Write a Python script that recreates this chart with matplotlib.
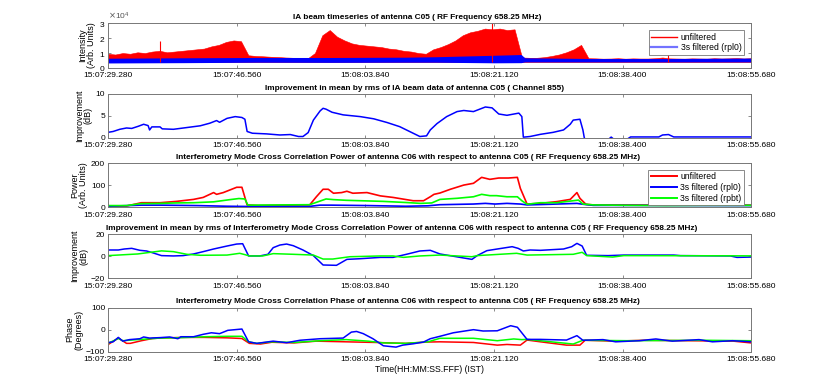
import numpy as np
import matplotlib
matplotlib.use("Agg")
import matplotlib.pyplot as plt
from matplotlib.lines import Line2D
from matplotlib.ticker import ScalarFormatter

plt.rcParams['font.family'] = ['Liberation Sans', 'DejaVu Sans']

# time axis (seconds after 15:07:29.280)
time_ticks = [0.0, 17.28, 34.56, 51.84, 69.12, 86.4]
time_labels = ['15:07:29.280', '15:07:46.560', '15:08:03.840',
               '15:08:21.120', '15:08:38.400', '15:08:55.680']

# panel 1: IA beam intensity envelopes
t_ia = np.linspace(0, 86.4, 88)
ia_unfilt_top = [9500, 9000, 10000, 9500, 10500, 10000, 11000, 11500, 10500, 11000,
                 11500, 12000, 12500, 13000, 14500, 15500, 17500, 18500, 18000, 8500,
                 8000, 7800, 7500, 7300, 7000, 6800, 6600, 6300, 10000, 22000,
                 25500, 21000, 18500, 16500, 15500, 15000, 14500, 14000, 13000, 12500,
                 11500, 11000, 10000, 9500, 12500, 14000, 16000, 18500, 22000, 24000,
                 25000, 26500, 26000, 26500, 25500, 26000, 7000, 6800, 6800, 7200,
                 8000, 9000, 10500, 12500, 15500, 6500, 6400, 6200, 6300, 6500,
                 6200, 6400, 6300, 6300, 6500, 7000, 6400, 6300, 6200, 6400,
                 6300, 6200, 6500, 6300, 6400, 6600, 6300, 6500]
ia_spike_t = [7.0, 51.6, 75.2]
ia_spike_val = [18000, 30000, 12000]
t_ia_blue = [0, 10, 20, 30, 40, 44, 48, 52, 55.5, 56, 65, 75, 86.4]
ia_blue_top = [6500, 6800, 7000, 7000, 7200, 7500, 8000, 8500, 9000, 6800, 6300, 6300, 6600]
ia_blue_low = [3300, 3500, 3800, 3700, 3800, 3800, 3600, 3400, 3500, 4000, 4000, 4000, 4000]

# panel 2: improvement of IA beam (dB)
t_imp = [0, 0.7, 1.6, 2.5, 3.2, 4.1, 4.8, 5.4, 5.6, 5.9, 7.0, 7.3, 8.8, 10.6, 12.4,
         13.7, 14.6, 15.0, 16.0, 17.1, 18.0, 18.4, 18.7, 19.4, 21.3, 23.1, 24.5, 25.6,
         26.2, 26.9, 27.6, 28.5, 28.9, 29.3, 30.1, 31.6, 33.9, 35.7, 37.5, 39.2, 41.0,
         41.9, 42.8, 43.3, 44.2, 45.5, 46.9, 47.8, 49.1, 50.7, 51.6, 52.5, 53.6, 55.2,
         55.6, 55.8, 56.7, 58.1, 59.8, 61.2, 62.1, 62.5, 63.4, 63.8, 64.0, 64.3, 67.3,
         67.6, 67.9, 69.8, 70.2, 74.0, 74.5, 75.3, 76.0, 86.4]
imp_ia = [1.2, 1.4, 1.9, 2.2, 2.1, 2.6, 3.05, 2.75, 1.75, 2.45, 2.45, 2.0, 1.9, 2.3, 2.7,
          3.3, 3.9, 3.5, 4.4, 4.8, 4.6, 4.2, 1.4, 1.0, 0.85, 0.6, 0.7, 0.25,
          0.25, 1.15, 4.0, 6.1, 6.7, 6.5, 5.8, 5.2, 4.8, 4.3, 3.45, 2.5, 1.0,
          0.25, 0.4, 1.75, 3.2, 4.8, 5.95, 6.2, 5.95, 7.0, 6.8, 5.4, 5.1, 5.6,
          4.8, 0.1, 0.25, 0.75, 1.2, 1.75, 3.05, 4.0, 4.2, 1.75, -0.15, -0.4, -0.3,
          0.12, -0.3, -0.3, 0.15, 0.15, 0.6, 0.7, 0.15, 0.15]

# panel 3: cross correlation power
t_pow_unf = [0, 2.5, 4.5, 7.0, 9.2, 11.5, 12.8, 14.2, 14.6, 15.5, 16.4, 17.3, 18.0, 18.7,
             20.2, 27.1, 28.0, 28.9, 29.6, 30.3, 31.4, 32.1, 32.9, 34.8, 36.6, 38.3, 41.0,
             42.4, 43.3, 43.8, 44.6, 46.0, 47.8, 49.1, 50.2, 51.3, 52.5, 53.8, 55.0, 55.4,
             56.3, 58.1, 60.3, 62.1, 63.0, 63.4, 64.2, 65.2, 75, 86.4]
pow_unf = [6, 6, 21, 21, 27, 36, 45, 67, 59, 67, 79, 91, 91, 11,
           8, 11, 48, 82, 82, 64, 67, 73, 64, 67, 52, 45, 30,
           30, 48, 59, 65, 82, 101, 109, 136, 127, 133, 133, 136, 86,
           15, 18, 26, 36, 67, 41, 14, 11, 10, 10]
t_pow_rpl0 = [0, 4.5, 7.0, 12, 16, 18.7, 27, 28.5, 30, 35, 40, 43, 44.6, 49.1, 50.7,
              52.0, 53.6, 55.4, 56.3, 59.4, 63.0, 63.8, 65.2, 86.4]
pow_rpl0 = [5, 10, 10, 8, 5, 4, 4, 10, 10, 8, 5, 7, 12, 15, 18,
            15, 18, 15, 11, 14, 18, 14, 9, 8]
t_pow_rpbt = [0, 2.5, 4.5, 7.0, 9.2, 11.5, 14.2, 16.4, 17.6, 18.4, 18.8, 27.1, 28.2, 29.3,
              30.3, 32.0, 34.0, 37.0, 40.0, 42.0, 43.5, 44.6, 46.9, 49.1, 50.2, 51.3, 52.2,
              53.6, 55.0, 55.6, 56.3, 58.1, 60.3, 62.5, 63.2, 63.8, 65.2, 70, 75, 80, 86.4]
pow_rpbt = [8, 8, 17, 18, 20, 21, 25, 35, 40, 38, 10, 12, 25, 38,
            35, 32, 30, 27, 22, 18, 20, 36, 41, 48, 59, 53, 53,
            48, 48, 30, 14, 21, 21, 30, 33, 15, 11, 9, 8, 9, 9]

# panel 4: improvement of cross correlation power (dB)
t_imp_rpl0 = [0, 1.4, 2.2, 3.2, 4.3, 5.2, 6.1, 7.2, 8.8, 10.1, 11.5, 12.8, 14.2, 16.0, 17.3,
              18.1, 18.9, 20.4, 21.5, 22.2, 23.1, 24.0, 24.9, 26.2, 27.6, 28.9, 30.7, 32.1,
              33.9, 36.6, 38.3, 40.1, 41.9, 43.3, 44.6, 47.3, 48.9, 49.6, 50.9, 52.3, 54.3,
              55.1, 55.8, 56.7, 58.1, 61.2, 62.3, 63.0, 63.7, 64.3, 67.2, 69.3, 76.0, 76.9,
              83.6, 84.5, 86.4]
imp_rpl0 = [5.6, 5.6, 6.5, 7.1, 5.3, 4.7, 2.9, 0.5, 0.2, 0.5, 2.0, 4.1, 6.5, 9.2, 11.0,
            11.3, 0.2, 0.2, 1.7, 7.7, 10.1, 11.0, 9.5, 5.6, 0.5, -8.0, -8.3, -2.9,
            -2.3, -1.1, -1.1, 1.7, 4.7, 5.3, 2.0, -1.1, -2.9, 0.5, 5.0, 6.5, 8.6,
            7.1, 4.7, 5.6, 5.3, 6.5, 8.6, 11.6, 9.2, 0.8, 0.5, 1.0, 1.0, 0.5,
            0.2, -1.1, -0.8]
t_imp_rpbt = [0, 4.0, 7.2, 8.8, 10.6, 12.4, 16.0, 17.7, 18.4, 19.0, 20.8, 22.2, 24.9, 27.6,
              28.9, 30.2, 32.5, 36.6, 38.3, 39.7, 41.9, 44.6, 48.9, 49.6, 54.9, 56.3, 62.5,
              63.7, 64.3, 67.8, 69.3, 86.4]
imp_rpbt = [0.5, 2.0, 4.8, 4.1, 1.7, 0.8, 1.0, 2.6, 1.4, 0.2, 0.2, 2.3, 1.7, 1.0,
            -2.6, -2.6, -0.5, 0.2, 0.2, -1.1, 0.2, 1.0, -0.5, 0.5, 2.6, 1.0, 1.7,
            3.5, 0.5, -0.8, 0.5, 0.3]

# panel 5: cross correlation phase (degrees)
t_ph_unf = [0, 1.4, 2.5, 3.0, 4.5, 6.0, 7.0, 10.0, 13.0, 16.0, 18.0, 19.0, 20.5, 22.0,
            25.0, 28.0, 32.0, 36.0, 40.0, 43.0, 44.6, 49.1, 52.3, 53.6, 55.4, 56.3, 58.1,
            61.6, 63.4, 64.1, 68, 72, 78, 84, 86.4]
ph_unf = [-68, -38, -62, -62, -50, -40, -38, -35, -35, -37, -40, -62, -65, -57,
          -60, -52, -55, -58, -62, -56, -55, -58, -70, -67, -70, -47, -55,
          -70, -70, -48, -52, -48, -50, -52, -60]
t_ph_rpbt = [0, 1.4, 2.0, 4.0, 7.0, 10.0, 13.0, 16.0, 18.0, 18.9, 20.0, 22.0, 25.0, 28.5,
             32.0, 35.0, 37.0, 40.0, 43.0, 44.6, 49.1, 52.3, 54.5, 55.6, 56.3, 62.5, 63.8,
             70, 80, 86.4]
ph_rpbt = [-62, -40, -50, -45, -38, -36, -32, -30, -30, -55, -62, -55, -58, -50,
           -45, -52, -60, -62, -55, -39, -39, -50, -42, -45, -44, -65, -48,
           -50, -48, -50]
t_ph_rpl0 = [0, 0.7, 1.4, 2.0, 2.9, 4.3, 4.8, 5.6, 7.0, 8.3, 9.4, 9.8, 11.5, 12.8, 13.9,
             15.0, 16.1, 18.0, 18.9, 20.0, 22.2, 24.0, 25.8, 28.5, 31.6, 32.7, 33.4, 34.3,
             35.6, 37.0, 38.7, 39.6, 41.0, 42.4, 43.3, 44.6, 46.4, 49.1, 50.4, 52.3, 54.1,
             55.0, 56.3, 58.1, 61.6, 63.0, 63.8, 66.5, 68.2, 71.4, 73.6, 75.8, 79.4, 81.2,
             83.9, 86.4]
ph_rpl0 = [-59, -55, -35, -52, -45, -41, -33, -38, -36, -33, -41, -32, -32, -21, -14,
           -18, -3, 3, -55, -62, -52, -59, -48, -41, -38, -11, -8, -18,
           -41, -73, -79, -70, -64, -56, -41, -30, -14, 0, -6, -5, 18,
           11, -44, -44, -47, -27, -48, -45, -55, -50, -42, -52, -45, -55,
           -50, -55]

EDGE = '#777777'


def style_axes(ax, title, ylabel, ylim, yticks, title_x=0.5):
    ax.set_xlim(0, 86.4)
    ax.set_ylim(*ylim)
    ax.set_yticks(yticks)
    ax.set_xticks(time_ticks)
    ax.set_xticklabels(time_labels)
    ax.tick_params(direction='in', length=2.5, width=0.6, colors=EDGE,
                   labelcolor='black', labelsize=6.0, top=True, right=True)
    ax.tick_params(axis='x', pad=3.3)
    ax.tick_params(axis='y', pad=2)
    for sp in ax.spines.values():
        sp.set_color(EDGE)
        sp.set_linewidth(0.7)
    ax.set_title(title, fontsize=5.95, fontweight='bold', pad=3, x=title_x)
    ax.set_ylabel(ylabel, fontsize=6.5, labelpad=2, linespacing=1.0)


def make_legend(ax, handles, labels, top):
    leg = ax.legend(handles, labels, loc='upper right', bbox_to_anchor=(0.989, top),
                    borderaxespad=0, fontsize=6.2, fancybox=False, framealpha=1,
                    edgecolor=EDGE, borderpad=0.3, handlelength=3.0, labelspacing=0.2,
                    handletextpad=0.4)
    leg.get_frame().set_linewidth(0.6)


fig = plt.figure(figsize=(8.3, 3.77), dpi=100)
W = 0.775
ax1 = fig.add_axes([0.130, 0.820, W, 0.118])
ax2 = fig.add_axes([0.130, 0.635, W, 0.116])
ax3 = fig.add_axes([0.130, 0.450, W, 0.117])
ax4 = fig.add_axes([0.130, 0.262, W, 0.117])
ax5 = fig.add_axes([0.130, 0.067, W, 0.117])

# panel 1
ax1.fill_between(t_ia, 4000, ia_unfilt_top, color='red', lw=0.4, edgecolor='red')
ax1.vlines(ia_spike_t, 4000, ia_spike_val, color='red', lw=0.8)
ax1.fill_between(t_ia_blue, ia_blue_low, ia_blue_top, color='blue', lw=0)
style_axes(ax1, 'IA beam timeseries of antenna C05 ( RF Frequency 658.25 MHz)',
           'Intensity\n(Arb. Units)', (0, 30000), [0, 10000, 20000, 30000], 0.481)
fmt = ScalarFormatter(useMathText=True)
fmt.set_powerlimits((0, 0))
ax1.yaxis.set_major_formatter(fmt)
ax1.yaxis.get_offset_text().set_fontsize(6)
ax1.yaxis.get_offset_text().set_color('#555555')
make_legend(ax1, [Line2D([], [], color='red', lw=1.0),
                  Line2D([], [], color='blue', lw=1.6, alpha=0.55)],
            ['unfiltered', '3s filtered (rpl0)'], 0.85)

# panel 2
ax2.plot(t_imp, imp_ia, color='blue', lw=1.1)
style_axes(ax2, 'Improvement in mean by rms of IA beam data of antenna C05 ( Channel 855)',
           'Improvement\n(dB)', (0, 10), [0, 5, 10], 0.476)

# panel 3
ax3.plot(t_pow_unf, pow_unf, color='red', lw=1.2)
ax3.plot(t_pow_rpl0, pow_rpl0, color='blue', lw=1.2)
ax3.plot(t_pow_rpbt, pow_rpbt, color='#00ff00', lw=1.2)
style_axes(ax3, 'Interferometry Mode Cross Correlation Power of antenna C06 with respect '
           'to antenna C05 ( RF Frequency 658.25 MHz)',
           'Power\n(Arb. Units)', (0, 200), [0, 100, 200], 0.466)
make_legend(ax3, [Line2D([], [], color='red', lw=1.4),
                  Line2D([], [], color='blue', lw=1.4),
                  Line2D([], [], color='#00ff00', lw=1.4)],
            ['unfiltered', '3s filtered (rpl0)', '3s filtered (rpbt)'], 0.85)

# panel 4
ax4.plot(t_imp_rpl0, imp_rpl0, color='blue', lw=1.1)
ax4.plot(t_imp_rpbt, imp_rpbt, color='#00ff00', lw=1.1)
style_axes(ax4, 'Improvement in mean by rms of Interferometry Mode Cross Correlation Power '
           'of antenna C06 with respect to antenna C05 ( RF Frequency 658.25 MHz)',
           'Improvement\n(dB)', (-20, 20), [-20, 0, 20], 0.456)

# panel 5
ax5.plot(t_ph_unf, ph_unf, color='red', lw=1.1)
ax5.plot(t_ph_rpbt, ph_rpbt, color='#00ff00', lw=1.1)
ax5.plot(t_ph_rpl0, ph_rpl0, color='blue', lw=1.1)
style_axes(ax5, 'Interferometry Mode Cross Correlation Phase of antenna C06 with respect '
           'to antenna C05 ( RF Frequency 658.25 MHz)',
           'Phase\n(Degrees)', (-100, 100), [-100, 0, 100], 0.466)
ax5.set_xlabel('Time(HH:MM:SS.FFF) (IST)', fontsize=6.3, labelpad=1)

fig.savefig('out.png', dpi=100)
